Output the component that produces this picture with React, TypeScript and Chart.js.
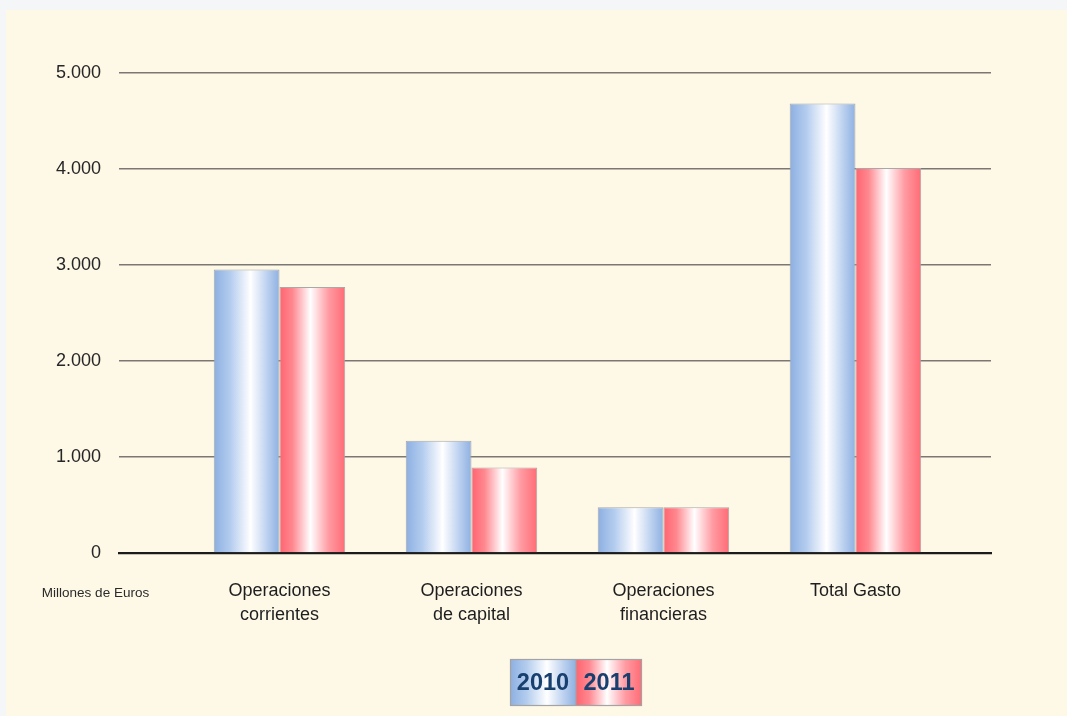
import React, { useEffect, useRef } from 'react';
import { Chart, registerables } from 'chart.js';

Chart.register(...registerables);

// ---- data ----
const categories: string[][] = [
  ['Operaciones', 'corrientes'],
  ['Operaciones', 'de capital'],
  ['Operaciones', 'financieras'],
  ['Total Gasto'],
];
const seriesLabels = ['2010', '2011'];
const values2010 = [2953, 1168, 477, 4682];
const values2011 = [2772, 890, 477, 4011];
const yTicks = [0, 1000, 2000, 3000, 4000, 5000];
const unitLabel = 'Millones de Euros';

// ---- styles ----
const FONT = '"Liberation Sans", Arial, Helvetica, sans-serif';
const SERIES_STOPS: [number, string][][] = [
  [[0, '#8cafe1'], [0.25, '#b3ccee'], [0.56, '#ffffff'], [0.8, '#bfd3f0'], [1, '#8eb0e1']],
  [[0, '#ff6470'], [0.2, '#ff8890'], [0.47, '#ffffff'], [0.75, '#ff9aa2'], [1, '#ff6b75']],
];
const SERIES_BASE = ['#a9c4ea', '#ff8a91'];
const CANVAS_W = 1061;
const CANVAS_H = 706;

function fmt(v: number): string {
  return String(v).replace(/\B(?=(\d{3})+(?!\d))/g, '.');
}

function makeGradient(ctx: CanvasRenderingContext2D, x0: number, x1: number, di: number) {
  const g = ctx.createLinearGradient(x0, 0, x1, 0);
  SERIES_STOPS[di].forEach(([o, c]) => g.addColorStop(o, c));
  return g;
}

const gradientPlugin = {
  id: 'barGradient',
  beforeDatasetsDraw(chart: any) {
    const ctx = chart.ctx;
    chart.data.datasets.forEach((_ds: any, di: number) => {
      const meta = chart.getDatasetMeta(di);
      meta.data.forEach((el: any) => {
        const { x, width } = el.getProps(['x', 'width'], true);
        try {
          el.options.backgroundColor = makeGradient(ctx, x - width / 2, x + width / 2, di);
        } catch (e) {
          /* ignore */
        }
      });
    });
  },
};

const extrasPlugin = {
  id: 'extras',
  afterDraw(chart: any) {
    const ctx: CanvasRenderingContext2D = chart.ctx;
    const area = chart.chartArea;
    ctx.save();
    // unit label
    ctx.font = `13.5px ${FONT}`;
    ctx.fillStyle = '#2a2a2a';
    ctx.textAlign = 'center';
    ctx.textBaseline = 'alphabetic';
    ctx.fillText(unitLabel, area.left - 23.5, area.bottom + 43.7);

    // legend
    const boxW = 66;
    const boxH = 47;
    const lx = 504;
    const ly = 649;
    chart.data.datasets.forEach((ds: any, di: number) => {
      const x0 = lx + di * boxW;
      ctx.fillStyle = makeGradient(ctx, x0, x0 + boxW, di);
      ctx.fillRect(x0, ly, boxW, boxH);
      ctx.fillStyle = '#17406f';
      ctx.font = `bold 23.5px ${FONT}`;
      ctx.textAlign = 'center';
      ctx.textBaseline = 'middle';
      ctx.fillText(ds.label, x0 + boxW / 2, ly + boxH / 2 + 1);
    });
    ctx.strokeStyle = '#a3a3a3';
    ctx.lineWidth = 1.2;
    ctx.strokeRect(lx + 0.5, ly + 0.5, boxW * 2 - 1, boxH - 1);
    ctx.beginPath();
    ctx.moveTo(lx + boxW, ly);
    ctx.lineTo(lx + boxW, ly + boxH);
    ctx.stroke();
    ctx.restore();
  },
};

export default function App() {
  const canvasRef = useRef<HTMLCanvasElement | null>(null);

  useEffect(() => {
    if (!canvasRef.current) return;
    const series = [values2010, values2011];
    const chart = new Chart(canvasRef.current, {
      type: 'bar',
      data: {
        datasets: series.map((vals, di) => ({
          label: seriesLabels[di],
          data: vals.map((v, i) => ({ x: i + 1, y: v })),
          backgroundColor: () => SERIES_BASE[di],
          borderColor: '#a8a8a8',
          borderWidth: 1,
          categoryPercentage: 0.685,
          barPercentage: 1.0,
        })),
      },
      options: {
        animation: false,
        responsive: false,
        events: [],
        layout: { padding: { left: 0, top: 63, right: 76, bottom: 0 } },
        plugins: {
          legend: { display: false },
          tooltip: { enabled: false },
        },
        scales: {
          x: {
            type: 'linear',
            min: 0.164,
            max: 4.706,
            offset: false,
            grid: { display: false, offset: false, drawTicks: false },
            border: { display: true, color: '#1b1b1b', width: 2.2 },
            afterBuildTicks: (scale: any) => {
              scale.ticks = categories.map((_c, i) => ({ value: i + 1 }));
            },
            afterFit: (scale: any) => {
              scale.height = 163;
            },
            ticks: {
              autoSkip: false,
              maxRotation: 0,
              minRotation: 0,
              padding: 27,
              color: '#1e1e1e',
              font: { family: FONT, size: 18, lineHeight: 1.28 },
              callback: (value: any) => categories[Math.round(Number(value)) - 1] ?? '',
            },
          },
          y: {
            min: 0,
            max: 5000,
            grid: { color: '#7b7874', lineWidth: 1.6, drawTicks: false },
            border: { display: false },
            afterBuildTicks: (scale: any) => {
              scale.ticks = yTicks.map((v) => ({ value: v }));
            },
            afterFit: (scale: any) => {
              scale.width = 113;
            },
            ticks: {
              padding: 18,
              color: '#262626',
              font: { family: FONT, size: 18 },
              callback: (value: any) => fmt(Number(value)),
            },
          },
        },
      } as any,
      plugins: [gradientPlugin, extrasPlugin],
    });
    return () => chart.destroy();
  }, []);

  return (
    <div
      style={{
        position: 'absolute',
        left: 0,
        top: 0,
        width: 1067,
        height: 716,
        background: '#f5f6f8',
        overflow: 'hidden',
      }}
    >
      <div
        style={{
          position: 'absolute',
          left: 6,
          top: 10,
          width: CANVAS_W,
          height: CANVAS_H,
          background: '#fef8e7',
        }}
      >
        <canvas
          ref={canvasRef}
          width={CANVAS_W}
          height={CANVAS_H}
          style={{ display: 'block', width: CANVAS_W, height: CANVAS_H }}
        />
      </div>
    </div>
  );
}
